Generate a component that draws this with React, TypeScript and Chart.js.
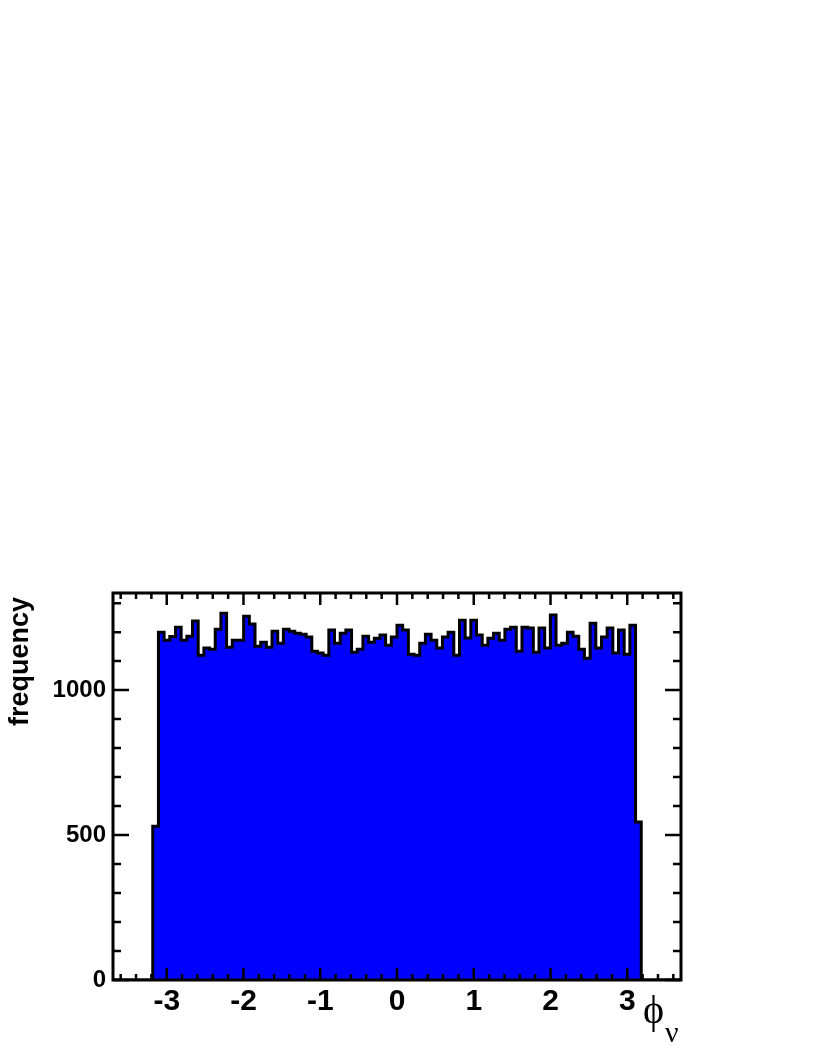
import React, { useEffect, useRef } from "react";
import { Chart, registerables } from "chart.js";

Chart.register(...registerables);

// Histogram binning (ROOT-style): 100 bins on [-3.7, 3.7]
const X_MIN = -3.7;
const X_MAX = 3.7;
const N_BINS = 100;
const FIRST_FILLED_BIN = 7;
const Y_MAX = 1335;

// Bin contents, starting at bin index FIRST_FILLED_BIN
const binCounts = [
  530, 1200, 1172, 1185, 1217, 1172, 1186, 1238, 1120, 1145,
  1141, 1210, 1265, 1148, 1172, 1172, 1255, 1228, 1151, 1165,
  1148, 1203, 1162, 1210, 1203, 1196, 1193, 1183, 1134, 1128,
  1120, 1207, 1162, 1196, 1207, 1131, 1141, 1186, 1165, 1179,
  1190, 1155, 1183, 1224, 1207, 1124, 1120, 1162, 1193, 1172,
  1145, 1183, 1200, 1120, 1241, 1180, 1241, 1190, 1155, 1179,
  1196, 1172, 1210, 1217, 1134, 1217, 1214, 1131, 1214, 1145,
  1259, 1155, 1162, 1200, 1186, 1141, 1110, 1231, 1145, 1183,
  1214, 1128, 1207, 1124, 1224, 545,
];

const xTickLabels = [-3, -2, -1, 0, 1, 2, 3];
const yTickLabels = [0, 500, 1000];
const X_MINOR_STEP = 0.2;
const Y_MINOR_STEP = 100;

const yTitle = "frequency";
const xTitleMain = "\u03D5";
const xTitleSub = "ν";

function buildPoints() {
  const bw = (X_MAX - X_MIN) / N_BINS;
  const pts: { x: number; y: number }[] = [];
  for (let k = 0; k < N_BINS; k++) {
    const idx = k - FIRST_FILLED_BIN;
    const v = idx >= 0 && idx < binCounts.length ? binCounts[idx] : 0;
    pts.push({ x: X_MIN + k * bw, y: v });
  }
  pts.push({ x: X_MAX, y: 0 });
  return pts;
}

const frameAndTicks = {
  id: "frameAndTicks",
  afterDraw(chart: any) {
    const { ctx, chartArea } = chart;
    const { left, right, top, bottom } = chartArea;
    const xs = chart.scales.x;
    const ys = chart.scales.y;
    ctx.save();
    ctx.strokeStyle = "#000";
    ctx.lineWidth = 2.5;
    ctx.lineCap = "butt";
    // ticks on x (bottom & top, pointing inward)
    const nx = Math.round((X_MAX - 0.0001) / X_MINOR_STEP);
    for (let i = -nx; i <= nx; i++) {
      const v = i * X_MINOR_STEP;
      const major = i % 5 === 0;
      const len = major ? 12 : 6;
      const px = xs.getPixelForValue(v);
      ctx.beginPath();
      ctx.moveTo(px, bottom);
      ctx.lineTo(px, bottom - len);
      ctx.moveTo(px, top);
      ctx.lineTo(px, top + len);
      ctx.stroke();
    }
    // ticks on y (left & right, pointing inward)
    for (let v = 0; v <= Y_MAX; v += Y_MINOR_STEP) {
      const major = v % 500 === 0;
      const len = major ? 16 : 8;
      const py = ys.getPixelForValue(v);
      ctx.beginPath();
      ctx.moveTo(left, py);
      ctx.lineTo(left + len, py);
      ctx.moveTo(right, py);
      ctx.lineTo(right - len, py);
      ctx.stroke();
    }
    // frame
    ctx.lineWidth = 3;
    ctx.strokeRect(left, top, right - left, bottom - top);

    // y title
    ctx.fillStyle = "#000";
    ctx.save();
    ctx.translate(28, top + 4);
    ctx.rotate(-Math.PI / 2);
    ctx.textAlign = "right";
    ctx.textBaseline = "alphabetic";
    ctx.font = 'bold 27px "Liberation Sans", Arial, sans-serif';
    ctx.fillText(yTitle, 0, 0);
    ctx.restore();

    // x title
    ctx.textAlign = "left";
    ctx.textBaseline = "alphabetic";
    ctx.font = '40px "Liberation Serif", "Times New Roman", serif';
    ctx.fillText(xTitleMain, right - 38, bottom + 43);
    ctx.font = '30px "Liberation Serif", "Times New Roman", serif';
    ctx.fillText(xTitleSub, right - 16, bottom + 62);
    ctx.restore();
  },
};

export default function App() {
  const canvasRef = useRef<HTMLCanvasElement | null>(null);

  useEffect(() => {
    const canvas = canvasRef.current;
    if (!canvas) return;
    const chart = new Chart(canvas, {
      type: "line",
      data: {
        datasets: [
          {
            data: buildPoints(),
            stepped: "before",
            borderColor: "#000000",
            borderWidth: 3,
            backgroundColor: "#0000ff",
            fill: "origin",
            pointRadius: 0,
            tension: 0,
          } as any,
        ],
      },
      options: {
        animation: false,
        responsive: false,
        maintainAspectRatio: false,
        devicePixelRatio: 1,
        layout: { padding: { left: 0, top: 593, right: 136, bottom: 0 } },
        plugins: {
          legend: { display: false },
          tooltip: { enabled: false },
          title: { display: false },
        },
        scales: {
          x: {
            type: "linear",
            min: X_MIN,
            max: X_MAX,
            grid: { display: false, drawTicks: false },
            border: { display: false },
            ticks: {
              color: "#000",
              padding: 4,
              maxRotation: 0,
              autoSkip: false,
              callback: (v: any) => String(v),
              font: { family: '"Liberation Sans", Arial, sans-serif', weight: "bold", size: 30 },
            },
            afterBuildTicks: (s: any) => {
              s.ticks = xTickLabels.map((v) => ({ value: v }));
            },
            afterFit: (s: any) => {
              s.height = 78;
            },
          } as any,
          y: {
            type: "linear",
            min: 0,
            max: Y_MAX,
            grid: { display: false, drawTicks: false },
            border: { display: false },
            ticks: {
              color: "#000",
              padding: 7,
              autoSkip: false,
              callback: (v: any) => String(v),
              font: { family: '"Liberation Sans", Arial, sans-serif', weight: "bold", size: 24 },
            },
            afterBuildTicks: (s: any) => {
              s.ticks = yTickLabels.map((v) => ({ value: v }));
            },
            afterFit: (s: any) => {
              s.width = 113;
            },
          } as any,
        },
      },
      plugins: [frameAndTicks],
    });
    return () => chart.destroy();
  }, []);

  return (
    <div style={{ position: "absolute", left: 0, top: 0, width: 817, height: 1058, background: "#fff" }}>
      <canvas ref={canvasRef} width={817} height={1058} style={{ width: 817, height: 1058, display: "block" }} />
    </div>
  );
}
